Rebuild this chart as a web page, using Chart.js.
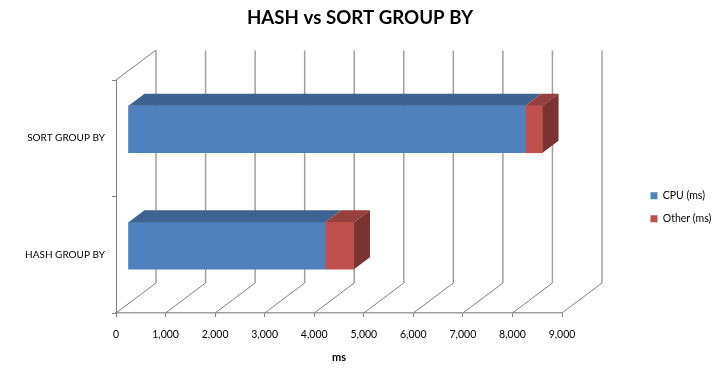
<!DOCTYPE html>
<html>
<head>
<meta charset="utf-8">
<title>HASH vs SORT GROUP BY</title>
<script src="https://cdn.jsdelivr.net/npm/chart.js@4/dist/chart.umd.min.js"></script>
<style>
    body { margin: 0; background: #fff; }
    canvas { display: block; }
</style>
</head>
<body>
<canvas id="groupByChart" width="720" height="376"></canvas>
<script>
// Chart data
const categories = ['SORT GROUP BY', 'HASH GROUP BY'];
const cpuMs = [8020, 3980];
const otherMs = [345, 580];
const axisMax = 9000;
const axisStep = 1000;

// Fake 3D look: wall depth and bar depth, in pixels
const WALL = { dx: 40, dy: -30 };
const BAR_SHIFT = { dx: 12, dy: -9 };
const BAR_DEPTH = { dx: 16, dy: -12 };
const GRID_COLOR = '#a0a0a0';
const FLOOR_COLOR = '#808080';
const FONT = 'Lato, "Open Sans", sans-serif';

function poly(ctx, pts, fill) {
    ctx.beginPath();
    pts.forEach((p, i) => i ? ctx.lineTo(p[0], p[1]) : ctx.moveTo(p[0], p[1]));
    ctx.closePath();
    ctx.fillStyle = fill;
    ctx.fill();
}

function line(ctx, x1, y1, x2, y2, color, width) {
    ctx.beginPath();
    ctx.moveTo(x1, y1);
    ctx.lineTo(x2, y2);
    ctx.strokeStyle = color;
    ctx.lineWidth = width;
    ctx.stroke();
}

const box3d = {
    id: 'box3d',
    afterLayout(chart) {
        // title is centred on the full canvas, legend sits at the far right
        chart.titleBlock.left = 0;
        chart.titleBlock.right = 720;
        const legend = chart.legend;
        legend.left = 638;
        legend.right = 720;
        legend.top = 178;
        legend.bottom = 320;
    },
    beforeDatasetsDraw(chart) {
        const { ctx, scales: { x, y } } = chart;
        const bottom = y.bottom, top = y.top;
        ctx.save();
        x.ticks.forEach(t => {
            const px = x.getPixelForValue(t.value);
            line(ctx, px, bottom, px + WALL.dx, bottom + WALL.dy, FLOOR_COLOR, 1);
            line(ctx, px + WALL.dx, bottom + WALL.dy, px + WALL.dx, top + WALL.dy + 0.5, GRID_COLOR, 1.5);
        });
        line(ctx, x.left, top, x.left + WALL.dx, top + WALL.dy, FLOOR_COLOR, 1);
        ctx.restore();
    },
    beforeDatasetDraw(chart) {
        chart.ctx.save();
        chart.ctx.translate(BAR_SHIFT.dx, BAR_SHIFT.dy);
    },
    afterDatasetDraw(chart) {
        chart.ctx.restore();
    },
    afterDatasetsDraw(chart) {
        const ctx = chart.ctx;
        const d = BAR_DEPTH;
        ctx.save();
        ctx.translate(BAR_SHIFT.dx, BAR_SHIFT.dy);
        chart.data.datasets.forEach((ds, i) => {
            const last = i === chart.data.datasets.length - 1;
            chart.getDatasetMeta(i).data.forEach(bar => {
                const t = bar.y - bar.height / 2;
                const b = bar.y + bar.height / 2;
                poly(ctx, [[bar.base, t], [bar.base + d.dx, t + d.dy], [bar.x + d.dx, t + d.dy], [bar.x, t]], ds.topColor);
                if (last) {
                    poly(ctx, [[bar.x, t], [bar.x + d.dx, t + d.dy], [bar.x + d.dx, b + d.dy], [bar.x, b]], ds.sideColor);
                }
            });
        });
        ctx.restore();
    }
};

new Chart(document.getElementById('groupByChart'), {
    type: 'bar',
    data: {
        labels: categories,
        datasets: [
            { label: 'CPU (ms)', data: cpuMs, backgroundColor: '#4f81bd', topColor: '#3e6390', sideColor: '#2f4f78' },
            { label: 'Other (ms)', data: otherMs, backgroundColor: '#c0504d', topColor: '#963f3c', sideColor: '#7a3330' }
        ]
    },
    plugins: [box3d],
    options: {
        indexAxis: 'y',
        responsive: false,
        animation: false,
        barThickness: 47,
        layout: { padding: { left: 0, top: 0, right: 108, bottom: 0 } },
        plugins: {
            title: {
                display: true,
                text: 'HASH vs SORT GROUP BY',
                color: '#000',
                font: { family: FONT, size: 18.7, weight: 'bold', lineHeight: 1 },
                padding: { top: 9, bottom: 52.3 }
            },
            legend: {
                position: 'right',
                align: 'start',
                maxWidth: 50,
                padding: 0,
                labels: {
                    boxWidth: 7,
                    boxHeight: 7,
                    padding: 12.5,
                    color: '#000',
                    font: { family: FONT, size: 10.5 }
                }
            },
            tooltip: { enabled: false }
        },
        scales: {
            x: {
                stacked: true,
                min: 0,
                max: axisMax,
                afterFit: s => { s.height = 63; },
                ticks: {
                    stepSize: axisStep,
                    autoSkip: false,
                    maxRotation: 0,
                    padding: 11,
                    color: '#000',
                    font: { family: FONT, size: 10.5 },
                    callback: v => v.toLocaleString('en-US')
                },
                grid: { drawOnChartArea: false, tickLength: 4, tickColor: FLOOR_COLOR },
                border: { color: GRID_COLOR, width: 1.5 },
                title: {
                    display: true,
                    text: 'ms',
                    color: '#000',
                    font: { family: FONT, size: 11, weight: 'bold' },
                    padding: { top: 0, bottom: 12 }
                }
            },
            y: {
                stacked: true,
                afterFit: s => { s.width = 116; },
                ticks: {
                    padding: 7,
                    color: '#000',
                    font: { family: FONT, size: 10 }
                },
                grid: { drawOnChartArea: false, tickLength: 4, tickColor: FLOOR_COLOR },
                border: { color: FLOOR_COLOR, width: 1 }
            }
        }
    }
});
</script>
</body>
</html>
